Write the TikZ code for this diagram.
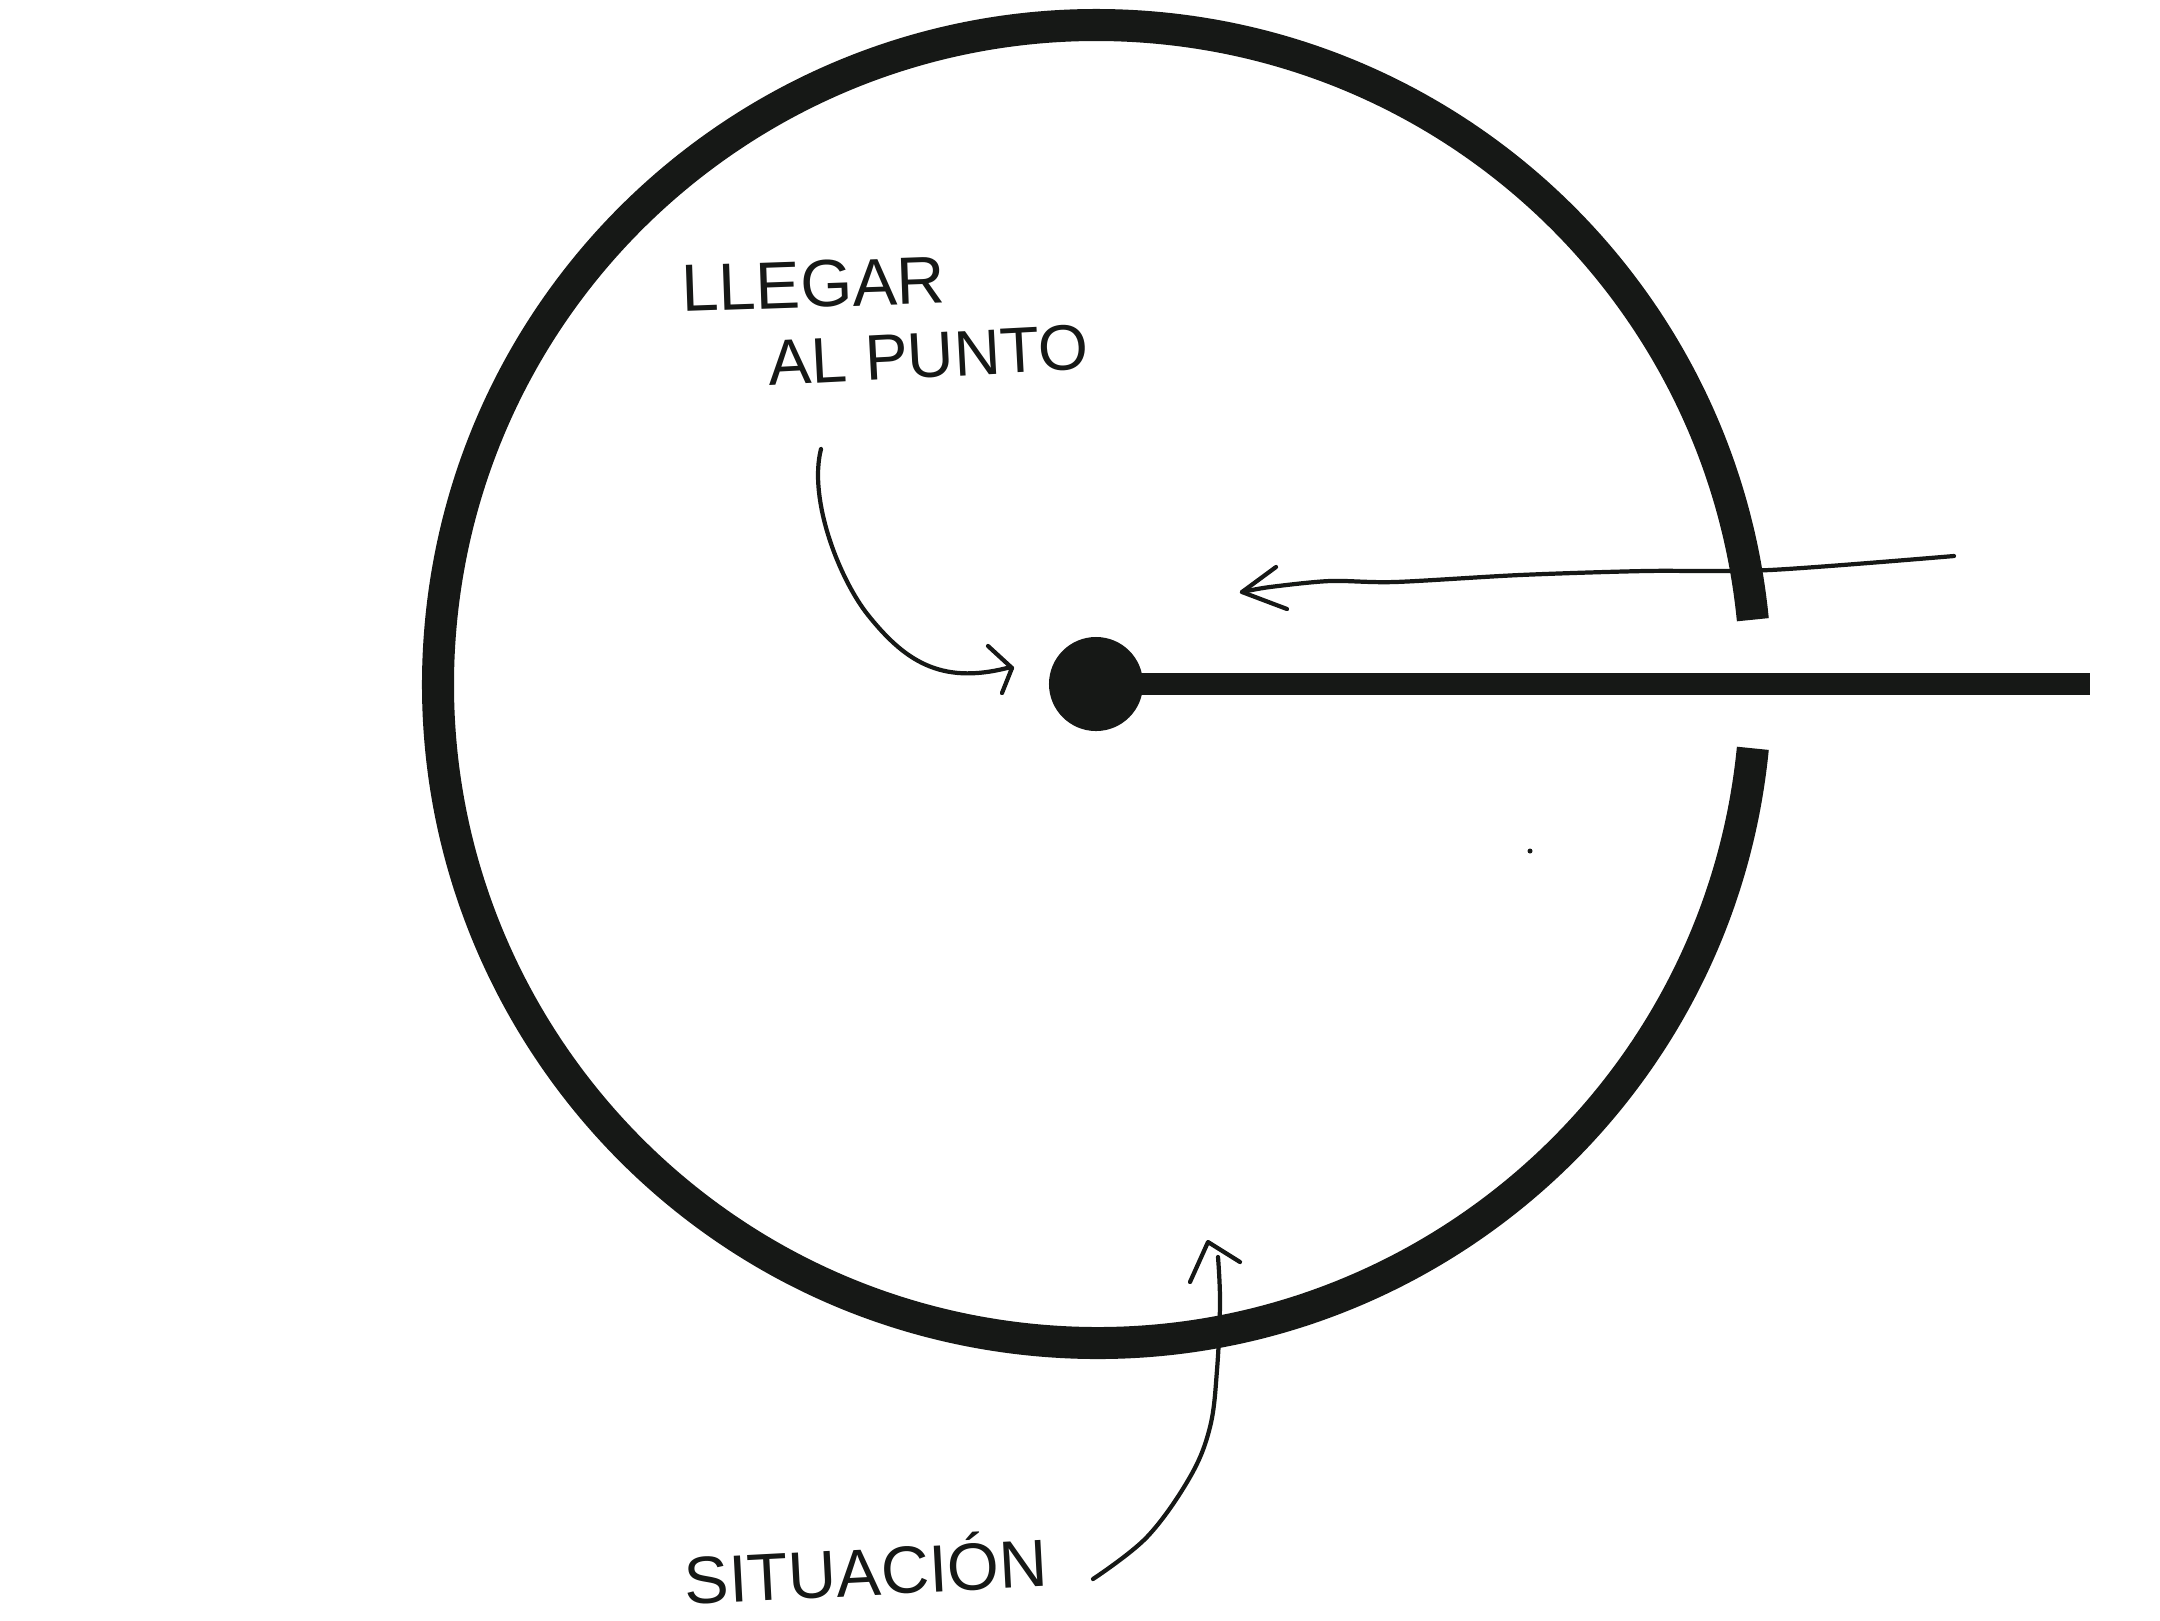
\documentclass[tikz,border=0pt]{standalone}
\usepackage{fontspec}
\setmainfont{Liberation Sans}
\definecolor{ink}{RGB}{22,24,22}
\begin{document}
\begin{tikzpicture}[x=0.01cm,y=-0.01cm,
  ring/.style={draw=ink,line width=0.32cm,line cap=butt},
  bar/.style={draw=ink,line width=0.22cm,line cap=butt},
  pen/.style={draw=ink,line width=1.2pt,line cap=round,line join=round},
  hand/.style={text=ink,inner sep=0pt,font=\fontsize{19}{22}\selectfont}]
\useasboundingbox (0,0) rectangle (2160,1620);
\fill[white] (0,0) rectangle (2160,1620);
% ring with gap on the right
\coordinate (C) at (1097,684);
\draw[ring] (C) ++(5.6:659) arc[start angle=5.6,end angle=354.4,radius=659];
% central point and bar
\node (dot) [circle,fill=ink,inner sep=0pt,minimum size=0.94cm] at (1096,684) {};
\coordinate (barend) at (2090,684);
\draw[bar] (dot.center) -- (barend);
% stray speck
\fill[ink] (1530,851) circle[radius=2.5];
% labels
\node (lab1) [hand,anchor=base west,rotate=2] at (682,312) {LLEGAR};
\node (lab2) [hand,anchor=base west,rotate=3,font=\fontsize{18.3}{22}\selectfont] at (769,386) {AL PUNTO};
\node (lab3) [hand,anchor=base west,rotate=3] at (685,1605) {SITUACIÓN};
% arrow 1: label to dot
\coordinate (a1s) at (821,449);
\coordinate (a1t) at (1012,668);
\draw[pen] (a1s) .. controls (808,500) and (840,580) .. (868,615) .. controls (904,660) and (940,685) .. (1007,668) -- (a1t);
\draw[pen] (988,646) -- (a1t) -- (1002,693);
% arrow 2: from the right into the ring
\coordinate (a2s) at (1954,556);
\coordinate (a2t) at (1242,592);
\draw[pen] plot[smooth,tension=0.5] coordinates {(a2s) (1770,570) (1645,571) (1520,575) (1395,582) (1330,581) (1270,587) (a2t)};
\draw[pen] (1276,567) -- (a2t) -- (1287,609);
% arrow 3: from SITUACION up through the ring
\coordinate (a3s) at (1093,1579);
\coordinate (a3e) at (1218,1257);
\coordinate (a3t) at (1208,1242);
\draw[pen] plot[smooth,tension=0.6] coordinates {(a3s) (1147,1537) (1190,1477) (1210,1427) (1217,1370) (1220,1303) (a3e)};
\draw[pen] (1190,1282) -- (a3t) -- (1240,1262);
\end{tikzpicture}
\end{document}
